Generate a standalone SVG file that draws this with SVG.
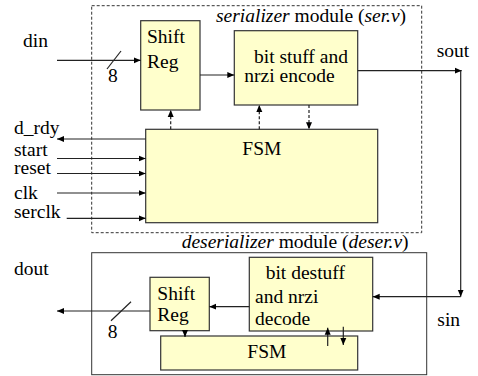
<svg xmlns="http://www.w3.org/2000/svg" width="478" height="376" viewBox="0 0 478 376">
<style>
text{font-family:"Liberation Serif","Times New Roman",serif;font-size:19.5px;fill:#000}
.it{font-style:italic}
.box{fill:#FFFFCC;stroke:#333;stroke-width:1.2}
.dash{fill:none;stroke:#333;stroke-width:1;stroke-dasharray:3,2}
.frame{fill:none;stroke:#333;stroke-width:1}
.w{fill:none;stroke:#222;stroke-width:1.2}
.wd{fill:none;stroke:#222;stroke-width:1.2;stroke-dasharray:3,2}
</style>
<defs>
<marker id="ah" markerWidth="8" markerHeight="8" refX="7" refY="4" orient="auto" markerUnits="userSpaceOnUse">
<path d="M0,1 L7,4 L0,7 Z" fill="#000"/>
</marker>
</defs>
<rect width="478" height="376" fill="#fff"/>
<g id="serializer-module">
<rect class="dash" x="91.7" y="5.7" width="330" height="227"/>
<text x="216" y="21.7"><tspan class="it">serializer</tspan> module (<tspan class="it">ser.v</tspan>)</text>
</g>
<g id="deserializer-module">
<rect class="frame" x="91.7" y="252.7" width="335" height="122"/>
<text x="181.7" y="248"><tspan class="it">deserializer</tspan> module (<tspan class="it">deser.v</tspan>)</text>
</g>
<g id="ser-shiftreg">
<rect class="box" x="140.7" y="20.7" width="59.3" height="89.3"/>
<text x="147" y="42.7">Shift</text>
<text x="147" y="68">Reg</text>
</g>
<g id="ser-bitstuff">
<rect class="box" x="234.3" y="30.7" width="123.4" height="74.3"/>
<text x="254" y="63.3">bit stuff and</text>
<text x="244.3" y="81.7">nrzi encode</text>
</g>
<g id="ser-fsm">
<rect class="box" x="145.7" y="129.3" width="232" height="93.4"/>
<text x="242.3" y="155">FSM</text>
</g>
<g id="des-shiftreg">
<rect class="box" x="150" y="277.3" width="59.3" height="53.4"/>
<text x="157.3" y="300">Shift</text>
<text x="157.3" y="320.7">Reg</text>
</g>
<g id="des-fsm">
<rect class="box" x="160.7" y="336" width="197" height="34"/>
<text x="247.3" y="358.3">FSM</text>
</g>
<g id="des-bitdestuff">
<rect class="box" x="249.3" y="257.3" width="123.4" height="73.7"/>
<text x="265.7" y="279.3">bit destuff</text>
<text x="255" y="302.7">and nrzi</text>
<text x="255" y="325">decode</text>
</g>
<g id="labels">
<text x="23" y="47">din</text>
<text x="108" y="81.7">8</text>
<text x="436.7" y="57">sout</text>
<text x="14" y="134">d_rdy</text>
<text x="14" y="155.7">start</text>
<text x="14" y="174.3">reset</text>
<text x="14" y="199">clk</text>
<text x="14" y="217.7">serclk</text>
<text x="14" y="275">dout</text>
<text x="107.7" y="338.3">8</text>
<text x="437.3" y="326">sin</text>
</g>
<g id="connectors">
<line class="w" x1="57" y1="60.3" x2="140.7" y2="60.3" marker-end="url(#ah)"/>
<line class="w" x1="107" y1="69" x2="121" y2="51"/>
<line class="w" x1="200" y1="75" x2="234.3" y2="75" marker-end="url(#ah)"/>
<line class="wd" x1="170.7" y1="129.3" x2="170.7" y2="110" marker-end="url(#ah)"/>
<line class="wd" x1="259.3" y1="129.3" x2="259.3" y2="105" marker-end="url(#ah)"/>
<line class="wd" x1="309" y1="105" x2="309" y2="129.3" marker-end="url(#ah)"/>
<line class="w" x1="357.7" y1="70.7" x2="461.7" y2="70.7" marker-end="url(#ah)"/>
<line class="w" x1="460.7" y1="70.7" x2="460.7" y2="296.7" marker-end="url(#ah)"/>
<line class="w" x1="460.7" y1="296.7" x2="372.7" y2="296.7" marker-end="url(#ah)"/>
<line class="w" x1="145.7" y1="139" x2="57" y2="139" marker-end="url(#ah)"/>
<line class="w" x1="57" y1="158.5" x2="145.7" y2="158.5" marker-end="url(#ah)"/>
<line class="w" x1="57" y1="173.5" x2="145.7" y2="173.5" marker-end="url(#ah)"/>
<line class="w" x1="57" y1="193" x2="145.7" y2="193" marker-end="url(#ah)"/>
<line class="w" x1="66.7" y1="218.3" x2="145.7" y2="218.3" marker-end="url(#ah)"/>
<line class="w" x1="249.3" y1="306.7" x2="209.3" y2="306.7" marker-end="url(#ah)"/>
<line class="w" x1="150" y1="311" x2="57" y2="311" marker-end="url(#ah)"/>
<line class="w" x1="111" y1="320.7" x2="131" y2="301.7"/>
<line class="w" x1="185" y1="330.7" x2="185" y2="337" marker-end="url(#ah)"/>
<line class="w" x1="327.7" y1="346" x2="327.7" y2="327.7" marker-end="url(#ah)"/>
<line class="w" x1="343.3" y1="326.7" x2="343.3" y2="345" marker-end="url(#ah)"/>
</g>
</svg>
